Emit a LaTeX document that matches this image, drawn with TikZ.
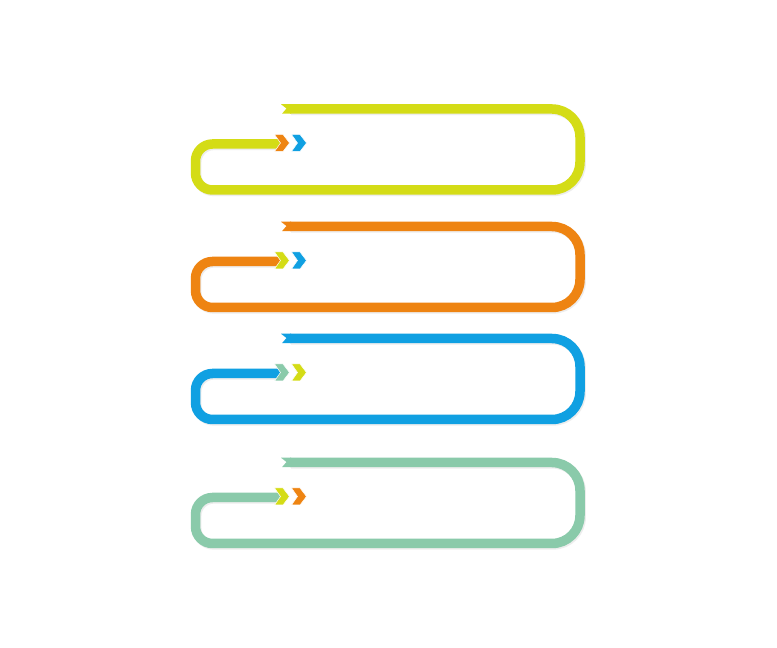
\documentclass[tikz,border=0pt]{standalone}
\usepackage{tikz}
\definecolor{clipLime}{RGB}{212,220,22}
\definecolor{clipOrange}{RGB}{238,132,18}
\definecolor{clipBlue}{RGB}{16,160,226}
\definecolor{clipMint}{RGB}{138,202,170}
\tikzstyle{band}=[line width=9.5pt]
\tikzstyle{shade}=[line width=9.5pt,draw=black!7]
\tikzstyle{chev}=[draw=white,line width=0.5pt]
% centre line of one clip, top bar at y=0
\newcommand\clipline{(290,0) -- (552,0) arc[start angle=90,end angle=0,radius=28]
  -- (580,-53) arc[start angle=0,end angle=-90,radius=28]
  -- (212.5,-81) arc[start angle=270,end angle=180,radius=17]
  -- (195.5,-52) arc[start angle=180,end angle=90,radius=17] -- (281,-35)}
\newcommand\chevron[2]{\filldraw[chev,fill=#2] (#1,-25.5) -- ++(8.5,0) -- ++(6.5,-8.5)
  -- ++(-6.5,-8.5) -- ++(-8.5,0) -- ++(6,8.5) -- cycle;}

\begin{document}
\begin{tikzpicture}[x=1pt,y=1pt]
  \useasboundingbox[fill=white] (0,0) rectangle (777,648);
  \foreach \t/\clr/\ca/\cb in {109/clipLime/clipOrange/clipBlue,
      226.5/clipOrange/clipLime/clipBlue,
      338.5/clipBlue/clipMint/clipLime,
      462.5/clipMint/clipLime/clipOrange}{
    \begin{scope}[shift={(0,{648-\t})}]
      \draw[shade,shift={(1.2,-1.4)}] \clipline;
      \draw[band,draw=\clr] \clipline;
      % notched end of the top bar
      \fill[\clr] (281,4.75) -- (291,4.75) -- (291,-4.75) -- (282,-4.75) -- (286.5,0.5) -- cycle;
      \chevron{274.5}{\ca}
      \chevron{291.5}{\cb}
    \end{scope}
  }
\end{tikzpicture}
\end{document}
